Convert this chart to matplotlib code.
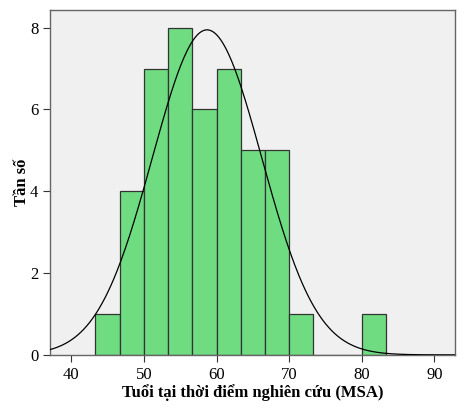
import numpy as np
import matplotlib
matplotlib.use('Agg')
import matplotlib.pyplot as plt

# histogram bins (SPSS style, width 10/3)
bin_edges = [43.33, 46.67, 50.0, 53.33, 56.67, 60.0, 63.33, 66.67, 70.0, 73.33,
             76.67, 80.0, 83.33]
counts = [1, 4, 7, 8, 6, 7, 5, 5, 1, 0, 0, 1]

mean_age = 58.7
sd_age = 7.53
n_total = 45

x_ticks = [40, 50, 60, 70, 80, 90]
y_ticks = [0, 2, 4, 6, 8]

plt.rcParams['font.family'] = ['Liberation Serif', 'DejaVu Serif']

fig = plt.figure(figsize=(4.64, 4.2), dpi=100)
ax = fig.add_axes([0.108, 0.155, 0.873, 0.821])
ax.set_facecolor('#f0f0f0')

lefts = np.array(bin_edges[:-1])
widths = np.diff(bin_edges)
ax.bar(lefts, counts, width=widths, align='edge', color='#6fdc82',
       edgecolor='#333333', linewidth=0.9, zorder=2)

xs = np.linspace(37.1, 92.85, 400)
bw = widths.mean()
ys = n_total * bw / (sd_age * np.sqrt(2 * np.pi)) * np.exp(-0.5 * ((xs - mean_age) / sd_age) ** 2)
ax.plot(xs, ys, color='black', linewidth=0.9, zorder=3)

ax.set_xlim(37.1, 92.85)
ax.set_ylim(0, 8.43)
ax.set_xticks(x_ticks)
ax.set_yticks(y_ticks)
ax.tick_params(labelsize=12, direction='out', length=5, color='#333333')

for s in ax.spines.values():
    s.set_color('#666666')
    s.set_linewidth(1.0)

ax.set_xlabel('Tuổi tại thời điểm nghiên cứu (MSA)', fontsize=12, fontweight='bold', labelpad=1)
ax.set_ylabel('Tần số', fontsize=12, fontweight='bold', labelpad=0)

fig.savefig('out.png', dpi=100)
